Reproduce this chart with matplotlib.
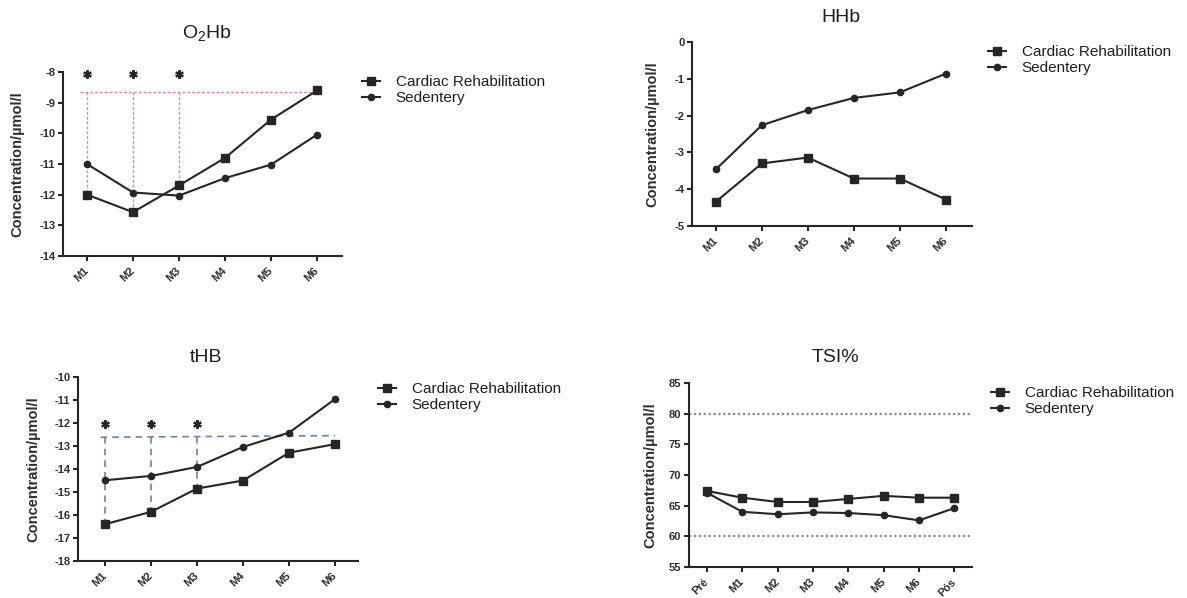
#!/usr/bin/env python3
"""NIRS oxygenation curves: cardiac rehabilitation vs sedentary, four panels."""

import matplotlib

matplotlib.use("Agg")
import matplotlib.pyplot as plt
import numpy as np

# ---- data ----
MONTHS = ["M1", "M2", "M3", "M4", "M5", "M6"]
TSI_LABELS = ["Pré", "M1", "M2", "M3", "M4", "M5", "M6", "Pós"]
SERIES_NAMES = ["Cardiac Rehabilitation", "Sedentery"]

O2HB_REHAB = [-12.0, -12.57, -11.7, -10.8, -9.55, -8.6]
O2HB_SED = [-11.0, -11.93, -12.03, -11.46, -11.02, -10.04]
HHB_REHAB = [-4.34, -3.30, -3.14, -3.71, -3.71, -4.28]
HHB_SED = [-3.46, -2.26, -1.85, -1.52, -1.37, -0.86]
THB_REHAB = [-16.40, -15.86, -14.85, -14.50, -13.29, -12.92]
THB_SED = [-14.49, -14.30, -13.91, -13.04, -12.42, -10.96]
TSI_REHAB = [67.4, 66.3, 65.6, 65.6, 66.1, 66.6, 66.3, 66.3]
TSI_SED = [67.1, 64.0, 63.6, 63.9, 63.8, 63.45, 62.6, 64.6]

SIG_IDX = [0, 1, 2]
O2HB_STAR_Y = -8.07
O2HB_REF_Y = -8.65
THB_STAR_Y = -12.05
THB_REF_Y = [-12.62, -12.55]
TSI_LIMITS = [60, 80]

W, H = 1187, 598
LINE = "#262626"
TEXT = "#2e2e2e"

plt.rcParams["font.family"] = ["Liberation Sans", "DejaVu Sans"]
plt.rcParams["axes.unicode_minus"] = False
plt.rcParams["mathtext.fontset"] = "custom"
plt.rcParams["mathtext.rm"] = "Liberation Sans"


def px_rect(left, top, right, bottom):
    return [left / W, 1 - bottom / H, (right - left) / W, (bottom - top) / H]


def panel(fig, rect, cats, rehab, sed, ylim, yticks, xlim, title, title_xy, legend_xy, label_x):
    ax = fig.add_axes(px_rect(*rect))
    x = np.arange(len(cats))
    ax.plot(x, rehab, marker="s", ms=5.5, lw=1.5, color=LINE, label=SERIES_NAMES[0], zorder=4)
    ax.plot(x, sed, marker="o", ms=4.5, lw=1.5, color=LINE, label=SERIES_NAMES[1], zorder=4)

    ax.set_xlim(*xlim)
    ax.set_ylim(*ylim)
    ax.set_yticks(yticks)
    ax.set_xticks(x)
    ax.set_xticklabels(cats, rotation=45, ha="right", va="center", rotation_mode="anchor")
    for side in ("top", "right"):
        ax.spines[side].set_visible(False)
    for side in ("left", "bottom"):
        ax.spines[side].set_linewidth(1.5)
        ax.spines[side].set_color(LINE)
    ax.tick_params(direction="out", length=3.5, width=1.5, color=LINE,
                   labelsize=8, labelcolor=TEXT, pad=2)
    ax.tick_params(axis="x", pad=6)
    for lab in ax.get_xticklabels() + ax.get_yticklabels():
        lab.set_fontweight("bold")

    ax.set_ylabel("Concentration/µmol/l", fontsize=10.5, fontweight="bold", color=TEXT)
    ax.yaxis.set_label_coords(label_x, 0.5)

    fig.text(title_xy[0] / W, 1 - title_xy[1] / H, title, fontsize=14,
             ha="center", va="center", color="#1e1e1e")
    ax.legend(loc="upper left", bbox_to_anchor=(legend_xy[0] / W, 1 - legend_xy[1] / H),
              bbox_transform=fig.transFigure, frameon=False, borderpad=0, borderaxespad=0,
              handlelength=1.2, handletextpad=1.0, labelspacing=0.15, fontsize=11,
              labelcolor="#1e1e1e")
    return ax


def main() -> None:
    fig = plt.figure(figsize=(W / 100, H / 100), dpi=100)

    # O2Hb
    ax = panel(fig, (63, 72, 342, 256), MONTHS, O2HB_REHAB, O2HB_SED, (-14, -8),
               np.arange(-14, -7, 1), (-0.52, 5.54), r"O$_\mathregular{2}$Hb",
               (207, 34), (362, 75), -0.14)
    red = "#e5848c"
    ax.plot([-0.15, len(MONTHS) - 1], [O2HB_REF_Y] * 2, ls=(0, (2, 1.5)), lw=1, color=red, zorder=2)
    for i in SIG_IDX:
        ax.plot([i, i], [O2HB_REF_Y, O2HB_REHAB[i]], ls=(0, (2, 1.5)), lw=1, color=red, zorder=2)
    ax.plot(SIG_IDX, [O2HB_STAR_Y] * len(SIG_IDX), ls="none", marker=(6, 2, 0),
            ms=6, mew=1.6, color=LINE, clip_on=False)

    # HHb
    panel(fig, (692, 42, 972, 226), MONTHS, HHB_REHAB, HHB_SED, (-5, 0),
          np.arange(-5, 1, 1), (-0.52, 5.57), "HHb", (841, 17), (988, 45), -0.115)

    # tHB
    ax = panel(fig, (78, 377, 358, 561), MONTHS, THB_REHAB, THB_SED, (-18, -10),
               np.arange(-18, -9, 1), (-0.59, 5.5), "tHB", (206, 357), (378, 382), -0.133)
    blue = "#6f82a5"
    ax.plot([-0.1, len(MONTHS) - 1], THB_REF_Y, ls=(0, (4, 3)), lw=1.2, color=blue, zorder=2)
    for i in SIG_IDX:
        ax.plot([i, i], [THB_REF_Y[0], THB_REHAB[i]], ls=(0, (4, 3)), lw=1.2, color=blue, zorder=2)
    ax.plot(SIG_IDX, [THB_STAR_Y] * len(SIG_IDX), ls="none", marker=(6, 2, 0),
            ms=6, mew=1.6, color=LINE)

    # TSI%
    ax = panel(fig, (689, 383, 972, 567), TSI_LABELS, TSI_REHAB, TSI_SED, (55, 85),
               np.arange(55, 86, 5), (-0.51, 7.5), "TSI%", (835, 357), (991, 386), -0.11)
    for lim in TSI_LIMITS:
        ax.axhline(lim, ls=(0, (1, 1.2)), lw=1.6, color="#8a8a8a", zorder=2)

    fig.savefig("out.png", dpi=100)
    plt.close(fig)


if __name__ == "__main__":
    main()
